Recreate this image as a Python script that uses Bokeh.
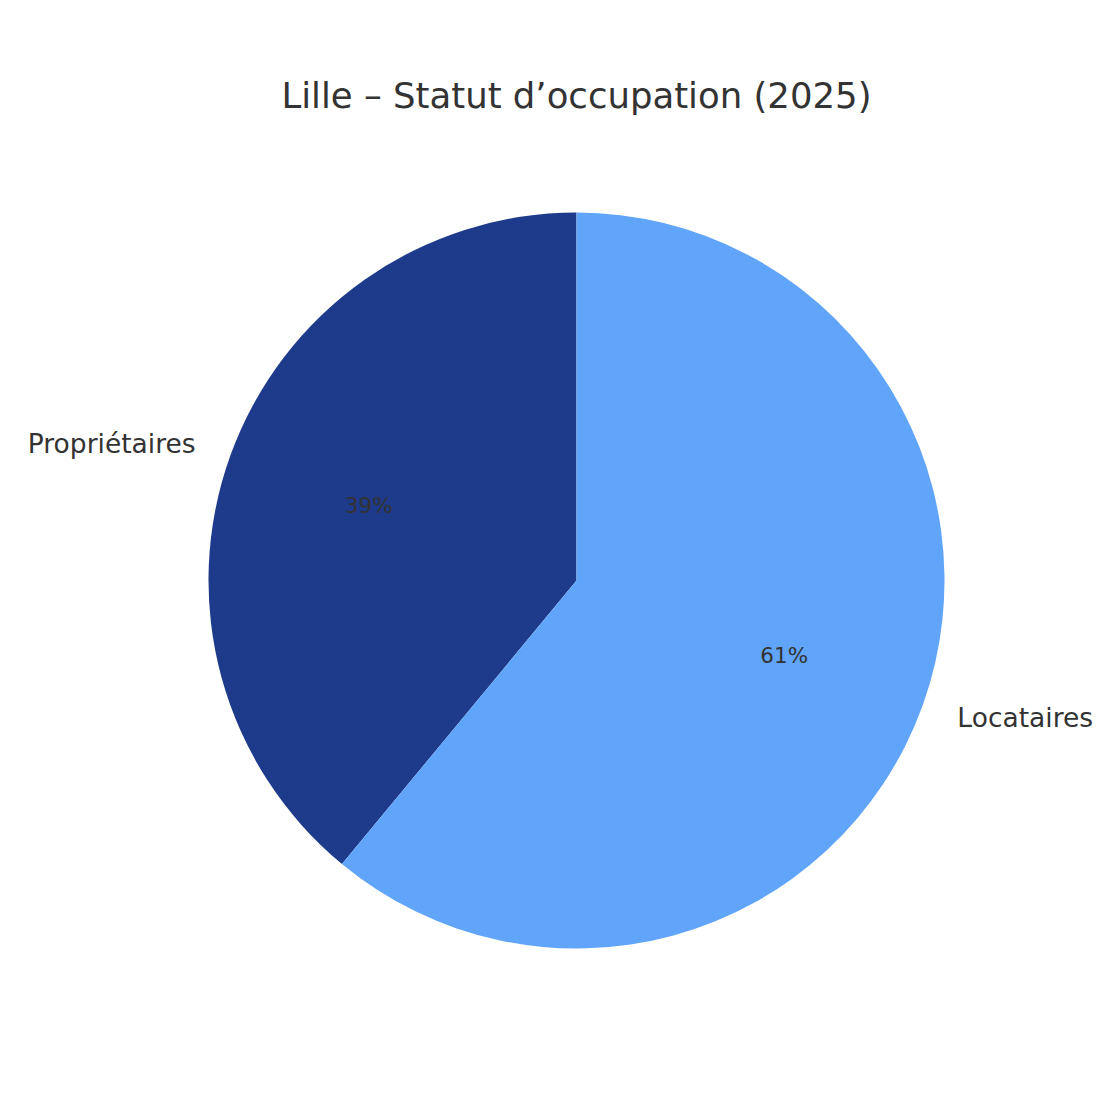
import math
from bokeh.plotting import figure
from bokeh.models import ColumnDataSource
from bokeh.core.properties import value
from bokeh.embed import file_html
from bokeh.resources import INLINE

title = "Lille – Statut d’occupation (2025)"
categories = ["Propriétaires", "Locataires"]
shares = [39, 61]
colors = ["#1e3a8a", "#60a5fa"]

W = H = 1104
R_PX = 368.0
cx_px, cy_px = 576.0, 580.0

p = figure(width=W, height=H, output_backend="svg", toolbar_location=None,
           x_range=(-cx_px / R_PX, (W - cx_px) / R_PX),
           y_range=(-(H - cy_px) / R_PX, cy_px / R_PX),
           min_border=0)
p.axis.visible = False
p.grid.visible = False
p.outline_line_color = None
p.background_fill_color = "white"
p.border_fill_color = "white"

total = float(sum(shares))
starts, ends, mids = [], [], []
a = math.pi / 2
for s in shares:
    span = 2 * math.pi * s / total
    starts.append(a)
    ends.append(a + span)
    mids.append(a + span / 2)
    a += span

src = ColumnDataSource(dict(start=starts, end=ends, color=colors))
p.wedge(x=0, y=0, radius=1.0, start_angle="start", end_angle="end",
        fill_color="color", line_color=None, source=src)

# category labels at 1.1 radius
lx = [1.1 * math.cos(m) for m in mids]
ly = [1.1 * math.sin(m) for m in mids]
align = ["right" if x < 0 else "left" for x in lx]
p.text(x=lx, y=ly, text=categories, text_align=align, text_baseline="middle",
       text_font=value("DejaVu Sans"), text_font_size="26.5px", text_color="#333333")

# percentage labels at 0.6 radius
px_ = [0.6 * math.cos(m) for m in mids]
py_ = [0.6 * math.sin(m) for m in mids]
p.text(x=px_, y=py_, text=[f"{s}%" for s in shares], text_align="center",
       text_baseline="middle", text_font=value("DejaVu Sans"),
       text_font_size="21.5px", text_color="#333333")

# title
p.text(x=[0], y=[(cy_px - 95) / R_PX], text=[title], text_align="center",
       text_baseline="middle", text_font=value("DejaVu Sans"),
       text_font_size="35.5px", text_color="#333333")

open("out.html", "w").write(file_html(p, INLINE))
